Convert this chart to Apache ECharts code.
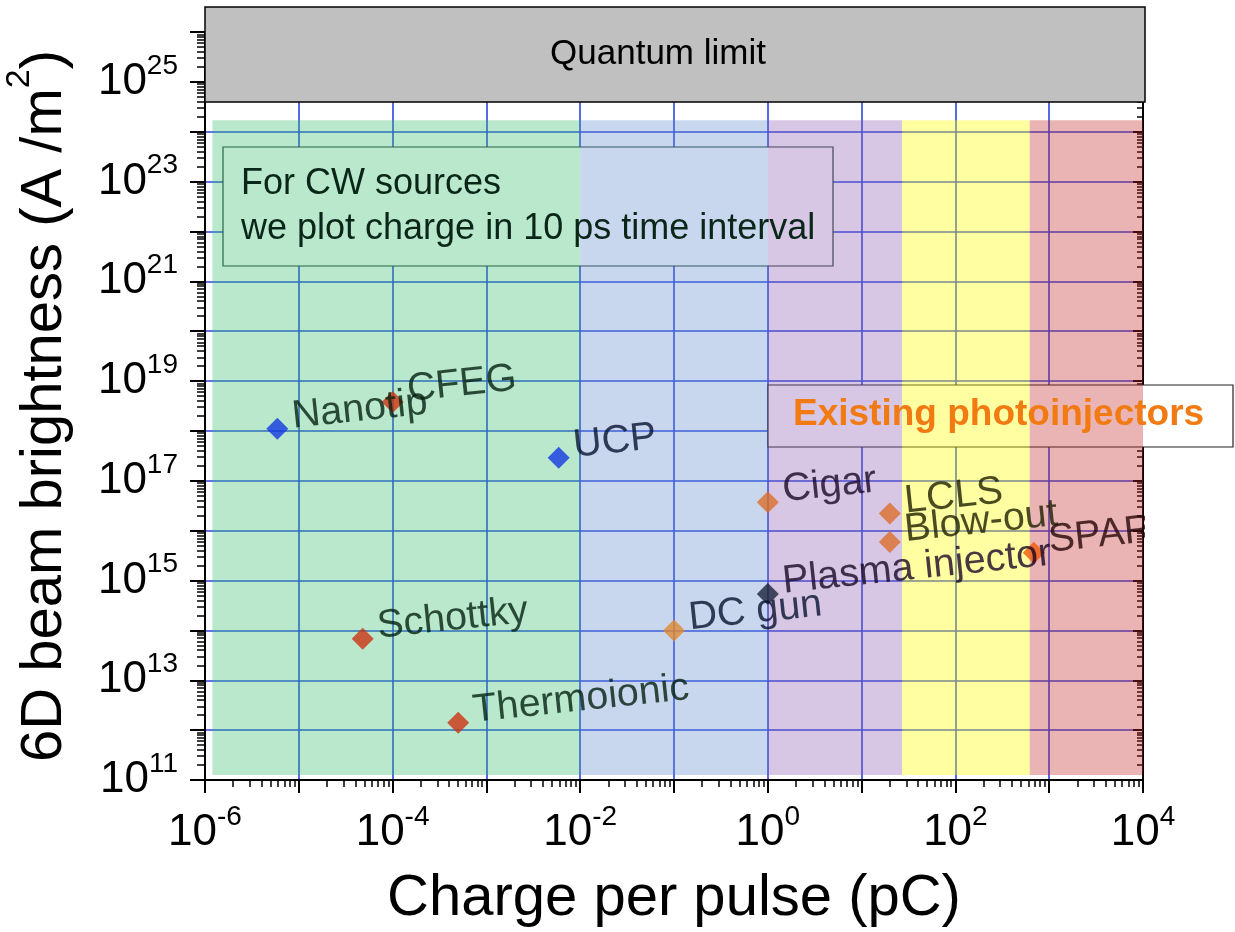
<!DOCTYPE html>
<html>
<head>
<meta charset="utf-8">
<script src="https://cdn.jsdelivr.net/npm/echarts@6/dist/echarts.min.js"></script>
<style>
  html, body { margin: 0; padding: 0; background: #ffffff; }
  #chart { width: 1235px; height: 932px; }
</style>
</head>
<body>
<div id="chart"></div>
<script>
// Electron sources: charge per pulse (pC) vs 6D beam brightness (A/m^2)
const sources = ['Nanotip', 'CFEG', 'UCP', 'Schottky', 'Thermoionic', 'DC gun',
                 'Cigar', 'Plasma injector', 'LCLS', 'Blow-out', 'SPARC'];
const chargePC = [5.9e-6, 1e-4, 5.9e-3, 4.8e-5, 5e-4, 0.1, 1, 1, 20, 20, 685];
const brightness = [1.1e18, 3.8e18, 2.9e17, 6.8e13, 1.4e12, 1.0e14,
                    3.7e16, 5.4e14, 2.2e16, 5.9e15, 3.6e15];
const markerColors = ['#1438e0', '#cc3312', '#1438e0', '#cc3312', '#cc3312', '#e08a32',
                      '#dc6e2a', '#1c2438', '#dc6e2a', '#dc6e2a', '#f05a0a'];
const labelColors = ['#04200f', '#04200f', '#081230', '#04200f', '#04200f', '#081230',
                     '#180626', '#180626', '#1e1e00', '#1e1e00', '#260505'];

// tick labels shown (exponents of 10)
const xLabelExponents = [-6, -4, -2, 0, 2, 4];
const yLabelExponents = [11, 13, 15, 17, 19, 21, 23, 25];

// shaded charge regimes (pC edges) and the brightness span they cover
const regimeEdges = [1.2e-6, 1e-2, 1, 27, 620, 1e4];
const regimeColors = ['rgba(55,189,112,0.35)', 'rgba(98,141,206,0.35)', 'rgba(141,92,178,0.35)',
                      'rgba(255,255,0,0.37)', 'rgba(198,41,41,0.35)'];
const regimeSpan = [1.26e11, 1.7e24];

const FONT = "'Liberation Sans', Arial, Helvetica, sans-serif";
const GRID_BLUE = '#2b45e0';

function powLabel(value, shown) {
  const e = Math.round(Math.log10(value));
  return shown.indexOf(e) >= 0 ? '{b|10}{s|' + e + '}' : '';
}
const tickRich = {
  b: { fontSize: 44, fontFamily: FONT, color: '#000', lineHeight: 48 },
  s: { fontSize: 28, fontFamily: FONT, color: '#000', padding: [0, 0, 32, 0] }
};

// minor log ticks (2..9 in each decade), expressed as exponents
function minorTicks(lo, hi) {
  const out = [];
  for (let e = lo; e < hi; e++) {
    for (let k = 2; k <= 9; k++) out.push(e + Math.log10(k));
  }
  return out;
}

const chart = echarts.init(document.getElementById('chart'), null, { renderer: 'canvas' });

const points = sources.map((name, i) => ({
  name: name,
  value: [chargePC[i], brightness[i]],
  itemStyle: { color: markerColors[i] },
  label: { color: labelColors[i] }
}));

const bands = regimeColors.map((color, i) => [
  { xAxis: regimeEdges[i], yAxis: regimeSpan[0], itemStyle: { color: color } },
  { xAxis: regimeEdges[i + 1], yAxis: regimeSpan[1] }
]);

const hiddenLine = { show: false, onZero: false };

const option = {
  animation: false,
  backgroundColor: '#ffffff',
  grid: { left: 205, right: 92, top: 32, bottom: 152, containLabel: false, outerBoundsMode: 'none' },
  xAxis: [
    {
      type: 'log', logBase: 10, min: 1e-6, max: 1e4, interval: 1, position: 'bottom',
      name: 'Charge per pulse (pC)', nameLocation: 'middle', nameGap: 90,
      nameTextStyle: { fontSize: 58, fontFamily: FONT, color: '#000' },
      axisLine: { show: true, onZero: false, lineStyle: { color: '#000', width: 2 } },
      axisTick: { show: true, inside: false, length: 13, lineStyle: { color: '#000', width: 2 } },
      axisLabel: { margin: 23, formatter: v => powLabel(v, xLabelExponents), rich: tickRich },
      splitLine: { show: true, lineStyle: { color: GRID_BLUE, width: 1.6 } }
    },
    {
      type: 'value', min: -6, max: 4, position: 'bottom',
      axisLine: hiddenLine,
      axisTick: { show: true, inside: false, length: 7, customValues: minorTicks(-6, 4),
                  lineStyle: { color: '#000', width: 1.5 } },
      axisLabel: { show: false },
      splitLine: { show: false }
    }
  ],
  yAxis: [
    {
      type: 'log', logBase: 10, min: 1e11, max: 1e26, interval: 1, position: 'left',
      name: '6D beam brightness (A /m{s|2})', nameLocation: 'middle', nameGap: 118,
      nameTextStyle: {
        fontSize: 58, fontFamily: FONT, color: '#000',
        rich: { s: { fontSize: 34, fontFamily: FONT, color: '#000', padding: [0, 0, 50, 0] } }
      },
      axisLine: { show: true, onZero: false, lineStyle: { color: '#000', width: 2 } },
      axisTick: { show: true, inside: false, length: 15, lineStyle: { color: '#000', width: 2 } },
      axisLabel: { margin: 27, formatter: v => powLabel(v, yLabelExponents), rich: tickRich },
      splitLine: { show: true, lineStyle: { color: GRID_BLUE, width: 1.6 } }
    },
    {
      type: 'value', min: 11, max: 26, position: 'left',
      axisLine: hiddenLine,
      axisTick: { show: true, inside: false, length: 8, customValues: minorTicks(11, 26),
                  lineStyle: { color: '#000', width: 1.5 } },
      axisLabel: { show: false },
      splitLine: { show: false }
    },
    {
      type: 'value', min: 11, max: 26, interval: 1, position: 'right',
      axisLine: { show: true, onZero: false, lineStyle: { color: '#000', width: 2 } },
      axisTick: { show: true, inside: true, length: 10, lineStyle: { color: '#000', width: 2 } },
      axisLabel: { show: false },
      splitLine: { show: false }
    },
    {
      type: 'value', min: 11, max: 26, position: 'right',
      axisLine: hiddenLine,
      axisTick: { show: true, inside: true, length: 6, customValues: minorTicks(11, 26),
                  lineStyle: { color: '#000', width: 1.5 } },
      axisLabel: { show: false },
      splitLine: { show: false }
    }
  ],
  series: [
    {
      type: 'scatter', xAxisIndex: 0, yAxisIndex: 0, data: [], z: 2, silent: true,
      markArea: { silent: true, z: 2, label: { show: false }, data: bands }
    },
    {
      type: 'scatter', xAxisIndex: 0, yAxisIndex: 0, z: 3,
      symbol: 'diamond', symbolSize: 22,
      data: points,
      label: {
        show: true, position: 'right', distance: 5, offset: [0, -12], rotate: 6,
        formatter: '{b}', fontSize: 39.5, fontFamily: FONT
      },
      emphasis: { disabled: true }
    }
  ],
  graphic: {
    elements: [
      // note box for CW sources (white card under the shading)
      { type: 'rect', z: 1, shape: { x: 223, y: 147, width: 610, height: 119 },
        style: { fill: '#ffffff', stroke: '#1f3a2c', lineWidth: 1.2 } },
      { type: 'text', z: 5, x: 241, y: 184,
        style: { text: 'For CW sources', font: '36px ' + FONT, fill: '#0a2618',
                 textVerticalAlign: 'middle' } },
      { type: 'text', z: 5, x: 241, y: 229,
        style: { text: 'we plot charge in 10 ps time interval', font: '36px ' + FONT, fill: '#0a2618',
                 textVerticalAlign: 'middle' } },
      // photoinjector caption
      { type: 'rect', z: 1, shape: { x: 768, y: 385, width: 465, height: 62 },
        style: { fill: '#ffffff', stroke: '#222222', lineWidth: 1.2 } },
      { type: 'text', z: 5, x: 793, y: 415,
        style: { text: 'Existing photoinjectors', font: 'bold 37px ' + FONT, fill: '#f27a12',
                 textVerticalAlign: 'middle' } },
      // keep point labels inside the frame on the right
      { type: 'rect', z: 4, shape: { x: 1145, y: 495, width: 90, height: 110 },
        style: { fill: '#ffffff' } },
      // quantum limit bar
      { type: 'rect', z: 6, shape: { x: 205, y: 7, width: 940, height: 95 },
        style: { fill: '#c0c0c0', stroke: '#000000', lineWidth: 1.5 } },
      { type: 'text', z: 7, x: 658, y: 54,
        style: { text: 'Quantum limit', font: '35px ' + FONT, fill: '#000',
                 textAlign: 'center', textVerticalAlign: 'middle' } }
    ]
  }
};

chart.setOption(option);
</script>
</body>
</html>
